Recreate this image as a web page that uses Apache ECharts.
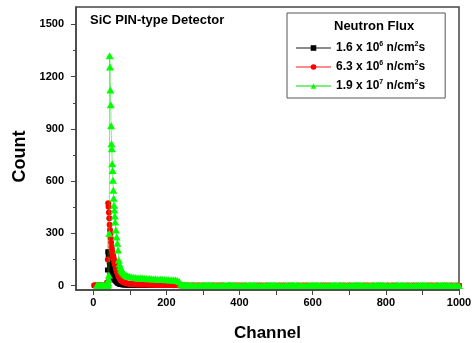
<!DOCTYPE html>
<html>
<head>
<meta charset="utf-8">
<title>SiC PIN-type Detector</title>
<script src="https://cdn.jsdelivr.net/npm/echarts@6.0.0/dist/echarts.min.js"></script>
<style>
  html, body { margin: 0; padding: 0; background: #fff; }
  #chart { width: 472px; height: 343px; }
</style>
</head>
<body>
<div id="chart"></div>
<script>
// channel positions (x), shared by all three spectra
const channels = [
  3, 6, 10, 15, 20, 25, 30, 34, 36, 38,
  39, 40, 41, 42, 43, 44, 45, 46, 47, 48, 49, 50, 51, 52, 53, 54, 55, 56, 57, 58, 59, 60,
  62, 64, 66, 68, 70, 72, 74, 76, 78, 80,
  83, 86, 90, 94, 98,
  100, 105, 110, 115, 120, 125, 130, 135, 140, 145, 150, 155, 160, 165, 170, 175,
  180, 185, 190, 195, 200, 205, 210, 215, 220, 225, 230, 235, 240, 245, 250,
  255, 260, 265, 270, 275, 280, 285, 290, 295, 300, 305, 310, 315, 320, 325,
  330, 335, 340, 345, 350, 355, 360, 365, 370, 375, 380, 385, 390, 395, 400,
  405, 410, 415, 420, 425, 430, 435, 440, 445, 450, 455, 460, 465, 470, 475,
  480, 485, 490, 495, 500, 505, 510, 515, 520, 525, 530, 535, 540, 545, 550,
  555, 560, 565, 570, 575, 580, 585, 590, 595, 600, 605, 610, 615, 620, 625,
  630, 635, 640, 645, 650, 655, 660, 665, 670, 675, 680, 685, 690, 695, 700,
  705, 710, 715, 720, 725, 730, 735, 740, 745, 750, 755, 760, 765, 770, 775,
  780, 785, 790, 795, 800, 805, 810, 815, 820, 825, 830, 835, 840, 845, 850,
  855, 860, 865, 870, 875, 880, 885, 890, 895, 900, 905, 910, 915, 920, 925,
  930, 935, 940, 945, 950, 955, 960, 965, 970, 975, 980, 985, 990, 995, 1000
];

// 1.6 x 10^6 n/cm^2s
const blackCounts = [
  1, 1, 0, 1, 0, 1, 0, 1, 2, 15,
  90, 195, 180, 165, 150, 135, 120, 108, 98, 88, 80, 72, 66, 60, 55, 50, 46, 42, 38, 35, 32, 29,
  24, 20, 16, 13, 11, 9, 8, 7, 6, 5,
  5, 4, 4, 3, 3,
  3, 3, 2, 3, 2, 2, 3, 2, 2, 2, 3, 2, 2, 2, 1, 2, 2, 1, 2, 2, 1, 2, 1, 1, 2, 1, 1, 1, 0, 1, 0,
  0, 1, 0, 0, 1, 0, 0, 1, 0, 0, 1, 0, 0, 0, 1,
  0, 0, 1, 0, 0, 0, 1, 0, 0, 0, 1, 0, 0, 1, 0,
  0, 0, 1, 0, 0, 0, 0, 1, 0, 0, 1, 0, 0, 0, 1,
  0, 0, 0, 1, 0, 0, 1, 0, 0, 0, 0, 1, 0, 0, 0,
  1, 0, 0, 0, 1, 0, 0, 0, 1, 0, 0, 0, 0, 1, 0,
  0, 1, 0, 0, 0, 1, 0, 0, 0, 0, 1, 0, 0, 1, 0,
  0, 0, 0, 1, 0, 0, 0, 1, 0, 0, 0, 0, 1, 0, 0,
  1, 0, 0, 0, 0, 1, 0, 0, 0, 1, 0, 0, 0, 0, 1,
  0, 0, 1, 0, 0, 0, 0, 1, 0, 0, 0, 1, 0, 0, 0,
  0, 1, 0, 0, 0, 1, 0, 0, 0, 0, 1, 0, 0, 0, 1
];

// 6.3 x 10^6 n/cm^2s
const redCounts = [
  2, 1, 2, 1, 2, 1, 1, 2, 3, 6,
  20, 150, 473, 453, 420, 387, 350, 320, 295, 272, 248, 224, 210, 196, 185, 175, 166, 155, 147, 135, 126, 118,
  100, 86, 72, 60, 50, 42, 36, 30, 25, 22,
  19, 16, 14, 12, 11,
  9, 9, 8, 8, 7, 7, 7, 6, 6, 6, 5, 5, 5, 5, 4, 4, 4, 4, 3, 4, 3, 3, 3, 3, 2, 3, 2, 2, 1, 1, 1,
  1, 1, 0, 1, 1, 0, 1, 1, 0, 1, 1, 0, 1, 0, 1,
  1, 0, 1, 0, 1, 1, 0, 0, 1, 1, 0, 1, 0, 1, 0,
  1, 0, 1, 0, 0, 1, 0, 1, 0, 1, 0, 1, 0, 0, 1,
  0, 1, 0, 1, 0, 0, 1, 0, 1, 0, 0, 1, 0, 1, 0,
  0, 1, 0, 0, 1, 0, 1, 0, 0, 1, 0, 1, 0, 0, 1,
  0, 1, 0, 1, 0, 0, 1, 0, 0, 1, 0, 1, 0, 0, 1,
  0, 0, 1, 0, 1, 0, 0, 1, 0, 1, 0, 0, 1, 0, 0,
  1, 0, 1, 0, 0, 1, 0, 0, 1, 0, 1, 0, 0, 1, 0,
  0, 1, 0, 0, 1, 0, 1, 0, 0, 1, 0, 0, 1, 0, 1,
  0, 0, 1, 0, 0, 1, 0, 1, 0, 0, 1, 0, 0, 1, 0
];

// 1.9 x 10^7 n/cm^2s
const greenCounts = [
  null, null, 2, 1, 2, 2, 1, 2, 2, 3,
  4, 8, 15, 35, 60, 300, 1320, 1256, 1124, 1038, 918, 815, 786, 700, 661, 605, 548, 502, 462, 434, 400, 365,
  319, 279, 244, 204, 147, 125, 108, 96, 88, 80,
  72, 66, 60, 56, 53,
  52, 50, 48, 47, 46, 44, 45, 42, 43, 41, 40, 41, 39, 38, 40, 37, 36, 38, 35, 36, 34, 35, 33, 34, 32, 33, 30, 24, 10, 4, 3,
  2, 2, 1, 2, 2, 1, 2, 1, 2, 2, 1, 2, 2, 1, 1,
  2, 1, 2, 2, 1, 2, 1, 1, 2, 2, 1, 2, 1, 1, 2,
  2, 1, 2, 1, 1, 2, 1, 2, 1, 1, 2, 1, 1, 2, 1,
  1, 2, 1, 2, 1, 1, 2, 1, 1, 2, 1, 1, 1, 2, 1,
  1, 2, 1, 1, 1, 2, 1, 1, 2, 1, 1, 1, 2, 1, 1,
  2, 2, 1, 1, 2, 1, 2, 1, 2, 1, 1, 2, 1, 1, 2,
  2, 1, 1, 2, 1, 2, 1, 1, 2, 1, 1, 2, 1, 1, 2,
  1, 2, 1, 1, 1, 2, 1, 2, 1, 1, 2, 1, 1, 2, 1,
  1, 1, 2, 1, 2, 1, 1, 2, 1, 1, 2, 1, 1, 2, 1,
  1, 2, 1, 2, 1, 1, 2, 1, 1, 2, 1, 1, 2, 1, 1
];

const seriesNames = ['1.6 x 10^6 n/cm^2s', '6.3 x 10^6 n/cm^2s', '1.9 x 10^7 n/cm^2s'];

// tick labels / tick positions
const xLabelValues = [0, 200, 400, 600, 800, 1000];
const xTickValues = [0, 100, 200, 300, 400, 500, 600, 700, 800, 900, 1000];
const yLabelValues = [0, 300, 600, 900, 1200, 1500];
const yMinorValues = [150, 450, 750, 1050, 1350];

const FONT = '"Liberation Sans", Arial, sans-serif';
const AXIS_COLOR = '#444';

function pairs(values) {
  return channels.map((c, i) => [c, values[i]]);
}

const chart = echarts.init(document.getElementById('chart'), null, { renderer: 'canvas' });

const option = {
  backgroundColor: '#fff',
  animation: false,
  title: [
    {
      text: 'SiC PIN-type Detector',
      left: 90, top: 14, padding: 0,
      textStyle: { fontFamily: FONT, fontSize: 13, fontWeight: 'bold', color: '#000' }
    },
    {
      text: 'Neutron Flux',
      left: 334, top: 20, padding: 0,
      textStyle: { fontFamily: FONT, fontSize: 13, fontWeight: 'bold', color: '#000' }
    }
  ],
  legend: {
    orient: 'vertical',
    left: 287, top: 13,
    padding: [28, 20, 6, 8],
    itemGap: 6,
    itemWidth: 35,
    itemHeight: 7,
    borderColor: '#555',
    borderWidth: 1,
    borderRadius: 0,
    backgroundColor: '#fff',
    data: seriesNames,
    formatter: function (name) {
      return '{b|' + name.replace(/\^(\d)/g, '}{s|$1}{b|') + '}';
    },
    textStyle: {
      rich: {
        b: { fontFamily: FONT, fontSize: 12, fontWeight: 'bold', color: '#000', lineHeight: 14 },
        s: { fontFamily: FONT, fontSize: 7, fontWeight: 'bold', color: '#000', lineHeight: 8, verticalAlign: 'top' }
      }
    }
  },
  grid: {
    left: 76, right: 13, top: 7, bottom: 53,
    outerBoundsMode: 'none',
    show: true,
    borderColor: AXIS_COLOR,
    borderWidth: 1.5
  },
  xAxis: {
    type: 'value',
    min: -47, max: 1000,
    name: 'Channel',
    nameLocation: 'middle',
    nameGap: 35,
    nameTextStyle: { fontFamily: FONT, fontSize: 17, fontWeight: 'bold', color: '#000' },
    axisLine: { show: true, onZero: false, lineStyle: { color: AXIS_COLOR, width: 1.5 } },
    axisTick: { show: true, inside: false, length: 5, customValues: xTickValues, lineStyle: { color: AXIS_COLOR } },
    axisLabel: {
      customValues: xLabelValues, margin: 7,
      formatter: v => String(v),
      fontFamily: FONT, fontSize: 11, fontWeight: 'bold', color: '#000'
    },
    splitLine: { show: false }
  },
  yAxis: [
    {
      type: 'value',
      min: -25, max: 1600,
      name: 'Count',
      nameLocation: 'middle',
      nameGap: 42,
      nameTextStyle: { fontFamily: FONT, fontSize: 18, fontWeight: 'bold', color: '#000', padding: [0, 16, 0, 0] },
      axisLine: { show: true, onZero: false, lineStyle: { color: AXIS_COLOR, width: 1.5 } },
      axisTick: { show: true, inside: false, length: 5, customValues: yLabelValues, lineStyle: { color: AXIS_COLOR } },
      axisLabel: {
        customValues: yLabelValues, margin: 12,
        formatter: v => String(v),
        fontFamily: FONT, fontSize: 11, fontWeight: 'bold', color: '#000'
      },
      splitLine: { show: false }
    },
    {
      // minor ticks only
      type: 'value',
      min: -25, max: 1600,
      position: 'left',
      axisLine: { show: false, onZero: false },
      axisTick: { show: true, inside: false, length: 3, customValues: yMinorValues, lineStyle: { color: AXIS_COLOR } },
      axisLabel: { show: false },
      splitLine: { show: false }
    }
  ],
  series: [
    {
      name: seriesNames[0],
      type: 'line',
      data: pairs(blackCounts),
      symbol: 'rect',
      symbolSize: 5,
      showAllSymbol: true,
      itemStyle: { color: '#000' },
      lineStyle: { color: 'rgba(0,0,0,0.45)', width: 1 },
      z: 2
    },
    {
      name: seriesNames[1],
      type: 'line',
      data: pairs(redCounts),
      symbol: 'circle',
      symbolSize: 6,
      showAllSymbol: true,
      itemStyle: { color: '#f00' },
      lineStyle: { color: 'rgba(255,0,0,0.45)', width: 1 },
      z: 3
    },
    {
      name: seriesNames[2],
      type: 'line',
      data: pairs(greenCounts),
      symbol: 'triangle',
      symbolSize: [8, 7],
      showAllSymbol: true,
      itemStyle: { color: '#00ff00' },
      lineStyle: { color: 'rgba(0,220,0,0.5)', width: 1 },
      z: 4
    }
  ]
};

chart.setOption(option);
</script>
</body>
</html>
